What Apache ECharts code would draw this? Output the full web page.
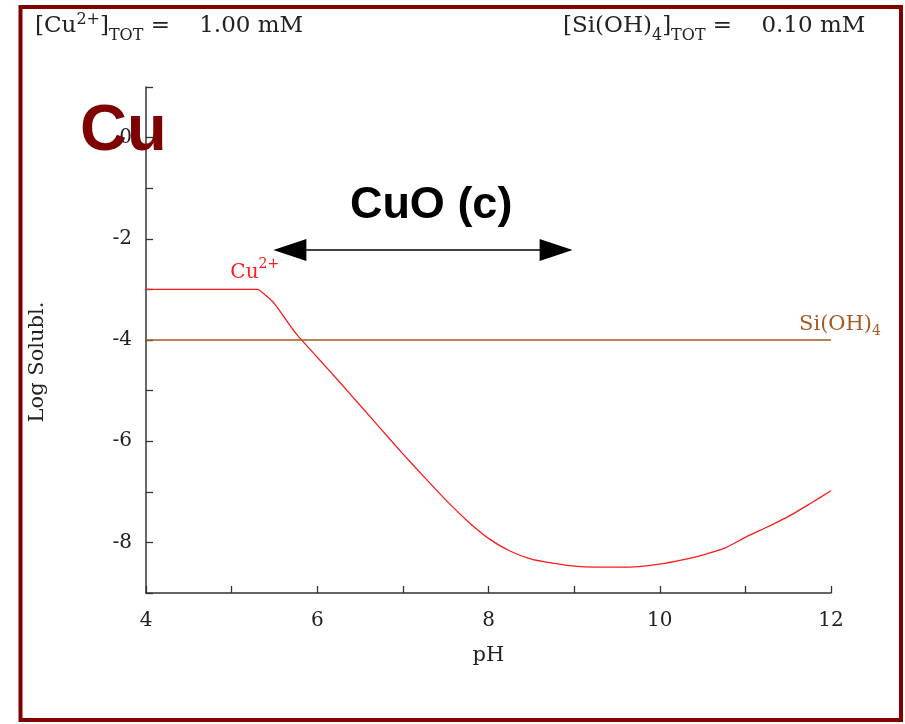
<!DOCTYPE html>
<html>
<head>
<meta charset="utf-8">
<style>
  html, body { margin: 0; padding: 0; background: #ffffff; }
  #chart { width: 905px; height: 724px; }
</style>
<script src="https://cdn.jsdelivr.net/npm/echarts@6/dist/echarts.min.js"></script>
</head>
<body>
<div id="chart"></div>
<script>
// pH sample points of the dissolved copper curve
const pH = [4, 5.3, 5.4, 5.5, 5.75, 6.0, 6.25, 6.5, 6.75, 7.0, 7.25, 7.5, 7.75, 8.0, 8.25, 8.5, 8.75,
            9.0, 9.25, 9.5, 9.75, 10.0, 10.25, 10.5, 10.75, 11.0, 11.25, 11.5, 11.75, 12.0];
// log total dissolved Cu(II) at each pH
const logCu = [-3, -3, -3.12, -3.28, -3.87, -4.34, -4.81, -5.29, -5.77, -6.25, -6.71, -7.16, -7.57, -7.92, -8.17, -8.33, -8.41,
               -8.47, -8.49, -8.49, -8.48, -8.43, -8.35, -8.25, -8.12, -7.9, -7.7, -7.49, -7.24, -6.98];
// dissolved silica stays at its total
const siPH = [4, 12];
const logSi = [-4, -4];
// CuO(c) stability span (pH) and the level of its arrow
const cuoSpan = [5.68, 8.79];
const cuoLevel = -2.22;

const serif = "'DejaVu Serif', 'Liberation Serif', serif";
const sans = "'Liberation Sans', Arial, sans-serif";
const ink = '#222';

const chart = echarts.init(document.getElementById('chart'));

const subSup = {
  sup: { fontSize: 16, lineHeight: 17, padding: [4, 0, 0, 0], verticalAlign: 'top', fontFamily: serif, fill: ink },
  sub: { fontSize: 16, lineHeight: 17, verticalAlign: 'bottom', fontFamily: serif, fill: ink }
};

chart.setOption({
  backgroundColor: '#ffffff',
  animation: false,
  title: {
    text: 'Cu',
    left: 75,
    top: 95,
    z: 20,
    textStyle: { fontFamily: sans, fontSize: 65, fontWeight: 'bold', color: '#7f0000' }
  },
  grid: { left: 146, right: 74, top: 87, bottom: 131 },
  xAxis: {
    type: 'value',
    min: 4, max: 12, interval: 1,
    name: 'pH',
    nameLocation: 'middle',
    nameGap: 52,
    nameTextStyle: { fontFamily: serif, fontSize: 21, color: ink },
    axisLine: { onZero: false, lineStyle: { color: '#333', width: 1.5 } },
    axisTick: { inside: true, length: 7, lineStyle: { color: '#333', width: 1.3 } },
    splitLine: { show: false },
    axisLabel: {
      margin: 18,
      fontFamily: serif, fontSize: 20, color: ink,
      formatter: v => (v % 2 === 0 ? String(v) : '')
    }
  },
  yAxis: {
    type: 'value',
    min: -9, max: 1, interval: 1,
    name: 'Log Solubl.',
    nameLocation: 'middle',
    nameGap: 98,
    nameTextStyle: { fontFamily: serif, fontSize: 21, color: ink, padding: [0, 44, 0, 0] },
    axisLine: { onZero: false, lineStyle: { color: '#333', width: 1.5 } },
    axisTick: { inside: true, length: 7, lineStyle: { color: '#333', width: 1.3 } },
    splitLine: { show: false },
    axisLabel: {
      margin: 14,
      fontFamily: serif, fontSize: 20, color: ink,
      formatter: v => (v % 2 === 0 ? String(v) : '')
    }
  },
  series: [
    {
      name: 'Cu2+',
      type: 'line',
      data: pH.map((x, i) => [x, logCu[i]]),
      showSymbol: false,
      smooth: 0.2,
      lineStyle: { color: '#ff1a1a', width: 1.3 },
      markPoint: {
        symbol: 'circle', symbolSize: 0,
        label: {
          show: true, position: 'inside',
          formatter: 'Cu{sup|2+}',
          fontFamily: serif, fontSize: 20, color: '#ff1a1a', lineHeight: 30,
          rich: { sup: { fontSize: 14, lineHeight: 15, verticalAlign: 'top', fontFamily: serif, color: '#ff1a1a' } }
        },
        data: [{ coord: [5.27, -2.67] }]
      }
    },
    {
      name: 'Si(OH)4',
      type: 'line',
      clip: false,
      data: siPH.map((x, i) => [x, logSi[i]]),
      showSymbol: false,
      lineStyle: { color: '#a65a22', width: 1.3 },
      markPoint: {
        symbol: 'circle', symbolSize: 0,
        label: {
          show: true, position: 'inside', offset: [9, 0],
          formatter: 'Si(OH){sub|4}',
          fontFamily: serif, fontSize: 21, color: '#a65a22', lineHeight: 28,
          rich: { sub: { fontSize: 14, lineHeight: 15, verticalAlign: 'bottom', fontFamily: serif, color: '#a65a22' } }
        },
        data: [{ coord: [12, -3.7] }]
      }
    },
    {
      name: 'CuO (c)',
      type: 'line',
      data: [],
      markLine: {
        silent: true,
        symbol: ['triangle', 'triangle'],
        symbolSize: [22, 33],
        lineStyle: { color: '#000', width: 1.6, type: 'solid' },
        itemStyle: { color: '#000' },
        label: { show: false },
        data: [[{ coord: [cuoSpan[0], cuoLevel] }, { coord: [cuoSpan[1], cuoLevel] }]]
      },
      markPoint: {
        symbol: 'circle', symbolSize: 0,
        label: {
          show: true, position: 'inside',
          formatter: 'CuO (c)',
          fontFamily: sans, fontSize: 45, fontWeight: 'bold', color: '#000'
        },
        data: [{ coord: [7.33, -1.35] }]
      }
    }
  ],
  graphic: [
    {
      type: 'rect', z: 0, silent: true,
      shape: { x: 20.5, y: 7, width: 880.5, height: 713 },
      style: { fill: 'none', stroke: '#800000', lineWidth: 4 }
    },
    {
      type: 'text', left: 35, top: 8, z: 10,
      style: {
        text: '[Cu{sup|2+}]{sub|TOT} =    1.00 mM',
        fontFamily: serif, fontSize: 23, fill: ink, lineHeight: 36,
        rich: subSup
      }
    },
    {
      type: 'text', left: 563, top: 8, z: 10,
      style: {
        text: '[Si(OH){sub|4}]{sub|TOT} =    0.10 mM',
        fontFamily: serif, fontSize: 23, fill: ink, lineHeight: 36,
        rich: subSup
      }
    }
  ]
});
</script>
</body>
</html>
